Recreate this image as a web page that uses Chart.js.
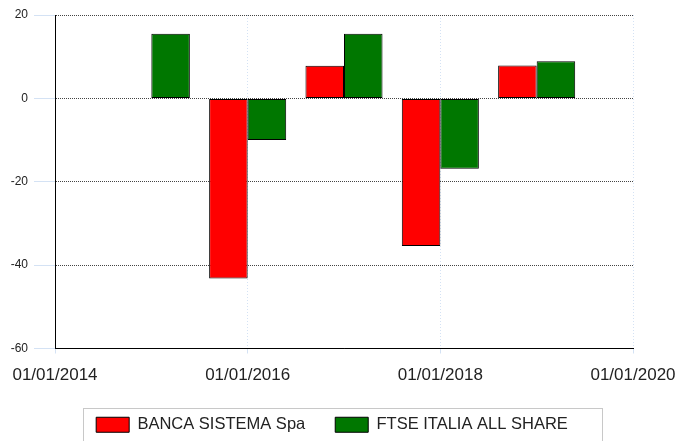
<!DOCTYPE html>
<html>
<head>
<meta charset="utf-8">
<script src="https://cdn.jsdelivr.net/npm/chart.js@4"></script>
<style>
  body { margin: 0; background: #fff; }
  canvas { display: block; }
</style>
</head>
<body>
<canvas id="chart" width="677" height="441"></canvas>
<script>
// values (yearly % change)
const years = [2015, 2016, 2017, 2018, 2019];
const bancaSistema = [null, -43.2, 7.8, -35.4, 7.9];
const ftseItalia = [15.5, -10.0, 15.5, -16.9, 8.9];
const seriesNames = ['BANCA SISTEMA Spa', 'FTSE ITALIA ALL SHARE'];
const xTicks = [2014, 2016, 2018, 2020];
const yTicks = [-60, -40, -20, 0, 20];

const FONT = "'Liberation Sans', Arial, sans-serif";
const gridBlue = '#d4e2f4';

// frame round the legend, like the original
const legendFrame = {
    id: 'legendFrame',
    afterDraw(chart) {
        const boxes = chart.legend.legendHitBoxes;
        if (!boxes || !boxes.length) return;
        const first = boxes[0];
        const last = boxes[boxes.length - 1];
        const ctx = chart.ctx;
        const left = Math.round(first.left - 13) + 0.5;
        const right = Math.round(last.left + last.width + 34) + 0.5;
        const top = Math.round(first.top - 9) + 0.5;
        ctx.save();
        ctx.strokeStyle = '#c8c8c8';
        ctx.lineWidth = 1;
        ctx.strokeRect(left, top, right - left, chart.height - top + 10);
        ctx.restore();
    }
};

const toPoints = values => years.map((y, i) => ({ x: y, y: values[i] }));

new Chart(document.getElementById('chart').getContext('2d'), {
    type: 'bar',
    data: {
        datasets: [{
            label: seriesNames[0],
            data: toPoints(bancaSistema),
            backgroundColor: '#ff0000',
            borderColor: '#000000',
            borderWidth: 1,
            borderSkipped: false
        }, {
            label: seriesNames[1],
            data: toPoints(ftseItalia),
            backgroundColor: '#007700',
            borderColor: '#000000',
            borderWidth: 1,
            borderSkipped: false
        }]
    },
    options: {
        responsive: false,
        animation: false,
        categoryPercentage: 0.8,
        barPercentage: 1.0,
        layout: {
            padding: { left: 0, right: 13, top: 15, bottom: -2 }
        },
        scales: {
            x: {
                type: 'linear',
                offset: false,
                min: 2014,
                max: 2020,
                afterBuildTicks: scale => { scale.ticks = xTicks.map(v => ({ value: v })); },
                afterFit: scale => { scale.height = 38; scale.paddingRight = 44; scale.paddingLeft = 0; },
                ticks: {
                    callback: v => '01/01/' + v,
                    font: { family: FONT, size: 17 },
                    color: '#222',
                    padding: 12,
                    maxRotation: 0
                },
                grid: {
                    offset: false,
                    color: gridBlue,
                    tickColor: gridBlue,
                    tickLength: 5,
                    tickBorderDash: []
                },
                border: { color: '#000', width: 1, dash: [1, 2] }
            },
            y: {
                min: -60,
                max: 20,
                afterBuildTicks: scale => { scale.ticks = yTicks.map(v => ({ value: v })); },
                afterFit: scale => { scale.width = 55; scale.paddingTop = 0; scale.paddingBottom = 0; },
                ticks: {
                    font: { family: FONT, size: 12 },
                    color: '#222',
                    padding: 6
                },
                grid: {
                    color: '#444',
                    tickColor: gridBlue,
                    tickLength: 21,
                    tickBorderDash: []
                },
                border: { color: '#000', width: 1, dash: [1, 1] }
            }
        },
        plugins: {
            legend: {
                position: 'bottom',
                labels: {
                    font: { family: FONT, size: 16.5 },
                    color: '#222',
                    boxWidth: 33,
                    boxHeight: 15,
                    padding: 30
                }
            },
            tooltip: { enabled: false }
        }
    },
    plugins: [legendFrame]
});
</script>
</body>
</html>
